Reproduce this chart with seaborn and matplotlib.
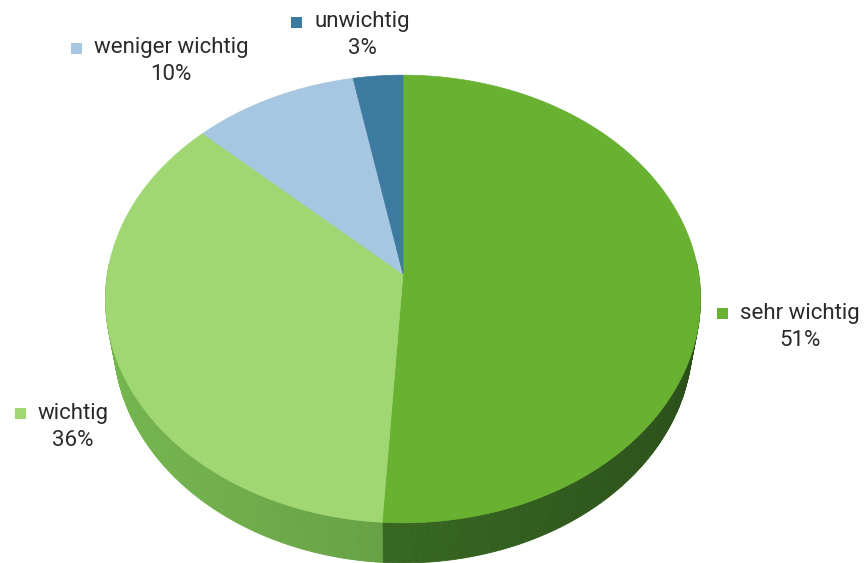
import numpy as np
import matplotlib
matplotlib.use("Agg")
import matplotlib.pyplot as plt
from matplotlib.patches import Polygon, Rectangle
from matplotlib.colors import to_rgb
import seaborn as sns

# Survey answers, clockwise from 12 o'clock
categories = ["sehr wichtig", "wichtig", "weniger wichtig", "unwichtig"]
shares = [51, 36, 10, 3]
top_colors = ["#69b131", "#a0d773", "#a6c6e1", "#3d7aa0"]
side_colors = ["#335f1f", "#5f9440", "#6f90ab", "#24506c"]

# Label anchor (centre of the name text) for each category, in pixels
label_pos = {
    "sehr wichtig": (800, 313),
    "wichtig": (73, 413),
    "weniger wichtig": (171, 48),
    "unwichtig": (362, 22),
}

sns.set_theme(style="white")
plt.rcParams["font.family"] = ["Roboto", "DejaVu Sans"]

W, H = 865, 563
fig = plt.figure(figsize=(W / 100, H / 100), dpi=100)
ax = fig.add_axes([0, 0, 1, 1])
ax.set_xlim(0, W)
ax.set_ylim(H, 0)
ax.axis("off")

# Perspective camera for a tilted disc of radius 1
cx, cy = 403.0, 274.0
elev = np.deg2rad(48.4)
dist = 5.95
focal = 295.6 * dist
depth = 0.223


def project(phi, h=0.0):
    x = np.cos(phi)
    y = np.sin(phi)
    X = x
    Y = y * np.sin(elev) + h * np.cos(elev)
    Z = dist + y * np.cos(elev) - h * np.sin(elev)
    return cx + focal * X / Z, cy - focal * Y / Z


def shade(color, f):
    r, g, b = to_rgb(color)
    return (min(r * f, 1), min(g * f, 1), min(b * f, 1))


fractions = np.array(shares, dtype=float) / sum(shares)
starts = np.pi / 2 - 2 * np.pi * np.concatenate([[0], np.cumsum(fractions)[:-1]])
ends = starts - 2 * np.pi * fractions

# Outer wall of the cylinder, drawn in thin segments with soft lighting
for a0, a1, sc in zip(starts, ends, side_colors):
    phis = np.linspace(a0, a1, 200)
    for p0, p1 in zip(phis[:-1], phis[1:]):
        if np.sin(0.5 * (p0 + p1)) > 0.05:
            continue
        u0, v0 = project(p0, 0)
        u1, v1 = project(p1, 0)
        u2, v2 = project(p1, -depth)
        u3, v3 = project(p0, -depth)
        f = 1.0 + 0.22 * np.cos(0.5 * (p0 + p1) - np.deg2rad(200))
        ax.add_patch(Polygon([(u0, v0), (u1, v1), (u2, v2), (u3, v3)],
                             closed=True, facecolor=shade(sc, f),
                             edgecolor=shade(sc, f), linewidth=0.6))

# Top face slices
for a0, a1, tc in zip(starts, ends, top_colors):
    phis = np.linspace(a0, a1, 300)
    us, vs = project(phis, 0)
    pts = [(cx, cy)] + list(zip(us, vs))
    ax.add_patch(Polygon(pts, closed=True, facecolor=tc, edgecolor=tc,
                         linewidth=0.5))

# Labels: colour square, name and percentage
for name, val, tc in zip(categories, shares, top_colors):
    lx, ly = label_pos[name]
    t = ax.text(lx, ly, name, ha="center", va="center", fontsize=16,
                color="#2a2a2a")
    fig.canvas.draw()
    bb = t.get_window_extent().transformed(ax.transData.inverted())
    left = min(bb.x0, bb.x1)
    ax.add_patch(Rectangle((left - 23, ly - 5.5), 11, 11, facecolor=tc,
                           edgecolor="none"))
    ax.text(lx, ly + 27, f"{val}%", ha="center", va="center", fontsize=16,
            color="#2a2a2a")

fig.savefig("out.png", dpi=100, facecolor="white")
